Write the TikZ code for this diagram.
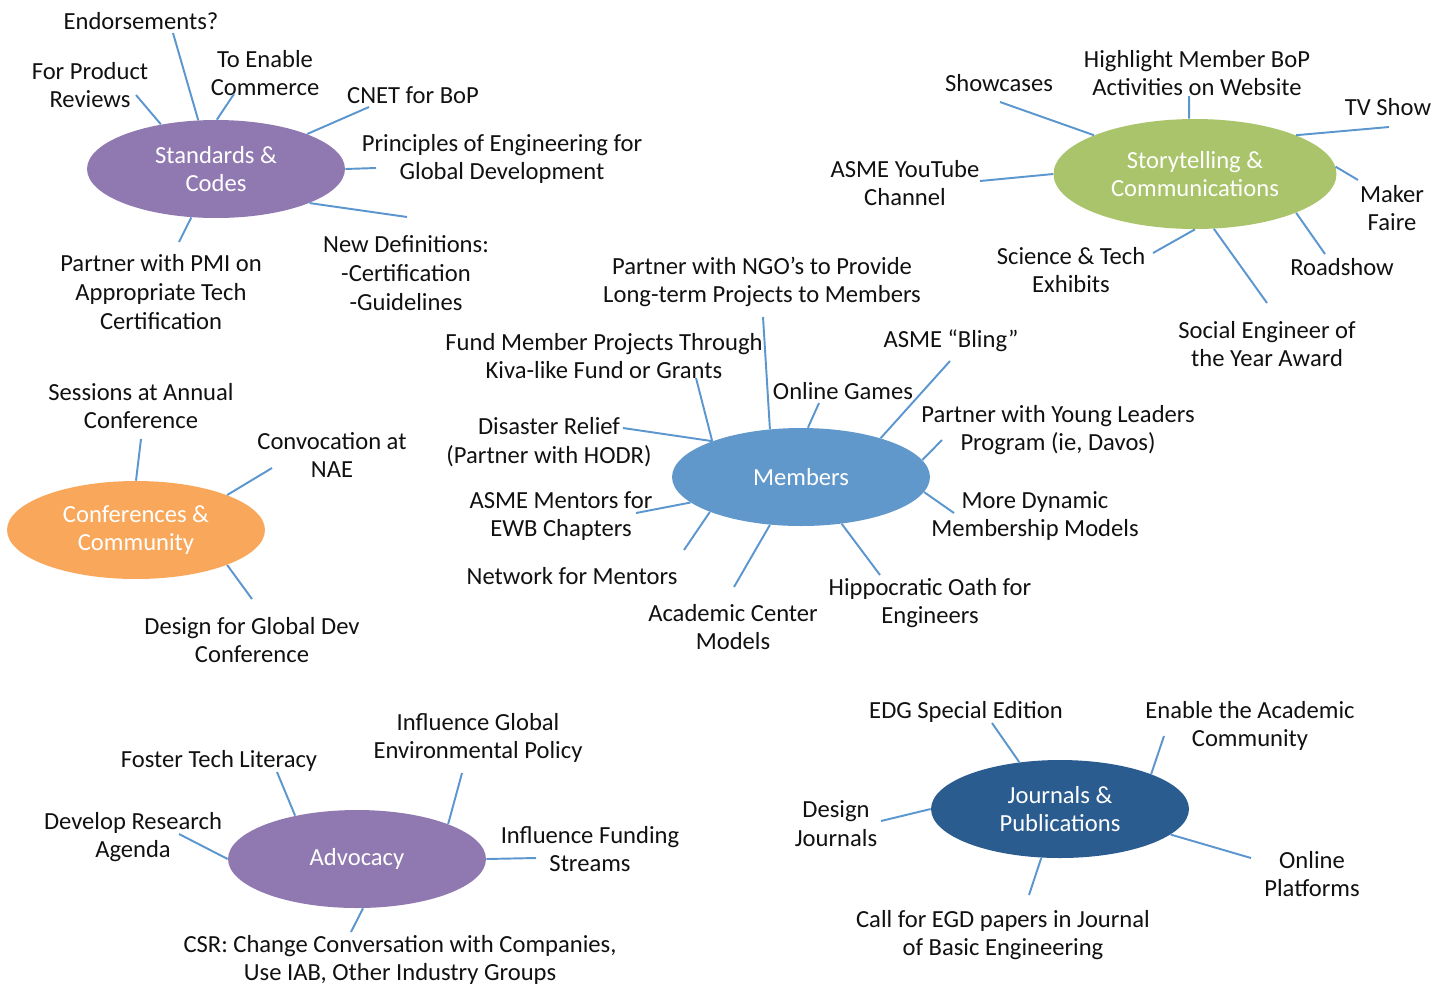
\documentclass[tikz,border=0pt]{standalone}
\usepackage{fontspec}
\setmainfont{Carlito}
\usetikzlibrary{shapes.geometric}
\definecolor{Lilac}{HTML}{9079B0}
\definecolor{Leaf}{HTML}{A9C46B}
\definecolor{Sky}{HTML}{6198CB}
\definecolor{Apricot}{HTML}{F9A85B}
\definecolor{Navy}{HTML}{2A5C8F}
\definecolor{Wire}{HTML}{5B96CF}
\definecolor{Ink}{HTML}{111111}
\tikzset{
  hubbox/.style={ellipse,minimum width=5.16cm,minimum height=1.96cm,inner sep=0pt,align=center,text=white,font=\fontsize{14}{16.4}\selectfont},
  leafbox/.style={inner sep=0pt,align=center,text=Ink,font=\fontsize{14}{16.4}\selectfont},
  spoke/.style={draw=Wire,line width=1.1pt}
}

\begin{document}
\begin{tikzpicture}[x=0.02cm,y=-0.02cm]
  \path[use as bounding box,fill=white] (0,0) rectangle (1449,988);

  \node[hubbox,fill=Lilac] (sc) at (216,169) {Standards \&\\Codes};
  \node[hubbox,fill=Leaf,minimum width=5.66cm,minimum height=2.2cm] (st) at (1195,174) {Storytelling \&\\Communications};
  \node[hubbox,fill=Sky] (mem) at (801,477) {Members};
  \node[hubbox,fill=Apricot] (conf) at (136,530) {Conferences \&\\Community};
  \node[hubbox,fill=Lilac] (adv) at (357,859) {Advocacy};
  \node[hubbox,fill=Navy] (jp) at (1060,809) {Journals \&\\Publications};

  \node[leafbox] (endorse) at (141,21) {Endorsements?};
  \node[leafbox] (prodrev) at (90,85) {For Product\\Reviews};
  \node[leafbox] (commerce) at (265,73) {To Enable\\Commerce};
  \node[leafbox] (cnet) at (413,95) {CNET for BoP};
  \node[leafbox] (principles) at (502,159) {Principles of Engineering for\\Global Development};
  \node[leafbox] (newdef) at (406,273) {New Definitions:\\-Certification\\-Guidelines};
  \node[leafbox] (pmi) at (161,292) {Partner with PMI on\\Appropriate Tech\\Certification};

  \node[leafbox] (showcases) at (999,83) {Showcases};
  \node[leafbox] (highlight) at (1197,73) {Highlight Member BoP\\Activities on Website};
  \node[leafbox] (tvshow) at (1388,107) {TV Show};
  \node[leafbox] (youtube) at (905,183) {ASME YouTube\\Channel};
  \node[leafbox] (maker) at (1392,208) {Maker\\Faire};
  \node[leafbox] (exhibits) at (1071,270) {Science \& Tech\\Exhibits};
  \node[leafbox] (roadshow) at (1342,267) {Roadshow};
  \node[leafbox] (award) at (1267,344) {Social Engineer of\\the Year Award};

  \node[leafbox] (ngo) at (762,282) {Partner with NGO’s to Provide\\Long-term Projects to Members};
  \node[leafbox] (kiva) at (604,356) {Fund Member Projects Through\\Kiva-like Fund or Grants};
  \node[leafbox] (games) at (843,391) {Online Games};
  \node[leafbox] (bling) at (951,341) {ASME “Bling”};
  \node[leafbox] (relief) at (549,442) {Disaster Relief\\(Partner with HODR)};
  \node[leafbox] (davos) at (1058,430) {Partner with Young Leaders\\Program (ie, Davos)};
  \node[leafbox] (ewb) at (561,516) {ASME Mentors for\\EWB Chapters};
  \node[leafbox] (dynamic) at (1035,516) {More Dynamic\\Membership Models};
  \node[leafbox] (mentors) at (572,576) {Network for Mentors};
  \node[leafbox] (acadctr) at (733,627) {Academic Center\\Models};
  \node[leafbox] (oath) at (930,603) {Hippocratic Oath for\\Engineers};

  \node[leafbox] (sessions) at (141,406) {Sessions at Annual\\Conference};
  \node[leafbox] (nae) at (332,455) {Convocation at\\NAE};
  \node[leafbox] (gdconf) at (252,640) {Design for Global Dev\\Conference};

  \node[leafbox] (literacy) at (219,761) {Foster Tech Literacy};
  \node[leafbox] (envpol) at (478,738) {Influence Global\\Environmental Policy};
  \node[leafbox] (research) at (133,837) {Develop Research\\Agenda};
  \node[leafbox] (funding) at (590,849) {Influence Funding\\Streams};
  \node[leafbox] (csr) at (400,960) {CSR: Change Conversation with Companies,\\Use IAB, Other Industry Groups};

  \node[leafbox] (edg) at (966,712) {EDG Special Edition};
  \node[leafbox] (acadcom) at (1250,726) {Enable the Academic\\Community};
  \node[leafbox] (designj) at (836,824) {Design\\Journals};
  \node[leafbox] (online) at (1312,874) {Online\\Platforms};
  \node[leafbox] (callegd) at (1003,935) {Call for EGD papers in Journal\\of Basic Engineering};

  \coordinate (sc-a) at (173,33);
  \coordinate (sc-b) at (136,95);
  \coordinate (sc-c) at (234,94);
  \coordinate (sc-d) at (369,107);
  \coordinate (sc-e) at (376,168);
  \coordinate (sc-f) at (407,217);
  \coordinate (sc-g) at (179,242);
  \draw[spoke] (sc.110) -- (sc-a);
  \draw[spoke] (sc.141) -- (sc-b);
  \draw[spoke] (sc.89) -- (sc-c);
  \draw[spoke] (sc.21) -- (sc-d);
  \draw[spoke] (sc.0) -- (sc-e);
  \draw[spoke] (sc.-20) -- (sc-f);
  \draw[spoke] (sc.-117) -- (sc-g);

  \coordinate (st-a) at (1000,102);
  \coordinate (st-b) at (1189,96);
  \coordinate (st-c) at (1389,127);
  \coordinate (st-d) at (980,181);
  \coordinate (st-e) at (1358,180);
  \coordinate (st-f) at (1153,253);
  \coordinate (st-g) at (1325,254);
  \coordinate (st-h) at (1267,303);
  \draw[spoke] (st.159) -- (st-a);
  \draw[spoke] (st.96) -- (st-b);
  \draw[spoke] (st.21) -- (st-c);
  \draw[spoke] (st.180) -- (st-d);
  \draw[spoke] (st.3) -- (st-e);
  \draw[spoke] (st.-90) -- (st-f);
  \draw[spoke] (st.-21) -- (st-g);
  \draw[spoke] (st.-71) -- (st-h);

  \coordinate (mem-a) at (763,317);
  \coordinate (mem-b) at (696,378);
  \coordinate (mem-c) at (623,428);
  \coordinate (mem-d) at (819,403);
  \coordinate (mem-e) at (950,361);
  \coordinate (mem-f) at (942,440);
  \coordinate (mem-g) at (636,513);
  \coordinate (mem-h) at (954,513);
  \coordinate (mem-i) at (684,550);
  \coordinate (mem-j) at (734,587);
  \coordinate (mem-k) at (880,575);
  \draw[spoke] (mem.123) -- (mem-a);
  \draw[spoke] (mem.158) -- (mem-b);
  \draw[spoke] (mem.158) -- (mem-c);
  \draw[spoke] (mem.82) -- (mem-d);
  \draw[spoke] (mem.26) -- (mem-e);
  \draw[spoke] (mem.8) -- (mem-f);
  \draw[spoke] (mem.-167) -- (mem-g);
  \draw[spoke] (mem.-7) -- (mem-h);
  \draw[spoke] (mem.-159) -- (mem-i);
  \draw[spoke] (mem.-123) -- (mem-j);
  \draw[spoke] (mem.-49) -- (mem-k);

  \coordinate (conf-a) at (141,439);
  \coordinate (conf-b) at (272,468);
  \coordinate (conf-c) at (252,599);
  \draw[spoke] (conf.90) -- (conf-a);
  \draw[spoke] (conf.21) -- (conf-b);
  \draw[spoke] (conf.-21) -- (conf-c);

  \coordinate (adv-a) at (277,772);
  \coordinate (adv-b) at (462,773);
  \coordinate (adv-c) at (179,834);
  \coordinate (adv-d) at (536,858);
  \coordinate (adv-e) at (351,932);
  \draw[spoke] (adv.145) -- (adv-a);
  \draw[spoke] (adv.21) -- (adv-b);
  \draw[spoke] (adv.180) -- (adv-c);
  \draw[spoke] (adv.0) -- (adv-d);
  \draw[spoke] (adv.-83) -- (adv-e);

  \coordinate (jp-a) at (992,723);
  \coordinate (jp-b) at (1164,736);
  \coordinate (jp-c) at (881,821);
  \coordinate (jp-d) at (1251,858);
  \coordinate (jp-e) at (1029,895);
  \draw[spoke] (jp.131) -- (jp-a);
  \draw[spoke] (jp.21) -- (jp-b);
  \draw[spoke] (jp.180) -- (jp-c);
  \draw[spoke] (jp.-13) -- (jp-d);
  \draw[spoke] (jp.-111) -- (jp-e);
\end{tikzpicture}
\end{document}
